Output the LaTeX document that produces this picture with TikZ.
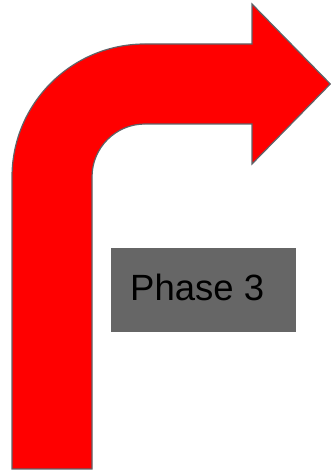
\documentclass[tikz,border=0pt]{standalone}
\usepackage{fontspec}
\setmainfont{Liberation Sans}
\definecolor{arrowred}{HTML}{FF0000}
\definecolor{edgegray}{HTML}{5F6368}
\definecolor{boxgray}{HTML}{666666}
\begin{document}
\begin{tikzpicture}[x=1pt,y=1pt,
  bentarrow/.style={fill=arrowred,draw=edgegray,line width=1.2pt,line join=miter},
  phasebox/.style={fill=boxgray,draw=none},
  phaselabel/.style={anchor=base west,inner sep=0pt,font=\fontsize{36.5}{40}\selectfont,text=black}]
\useasboundingbox (0,0) rectangle (331,471);
\path[bentarrow] (12,2) -- (12,294) arc[start angle=180,end angle=90,radius=133]
  -- (252,427) -- (252,467) -- (330.3,387) -- (252,307) -- (252,347) -- (145,347)
  arc[start angle=90,end angle=180,radius=53] -- (92,2) -- cycle;
\path[phasebox] (111,139) rectangle (296,223);
\node[phaselabel] (label) at (130,170) {Phase 3};
\end{tikzpicture}
\end{document}
